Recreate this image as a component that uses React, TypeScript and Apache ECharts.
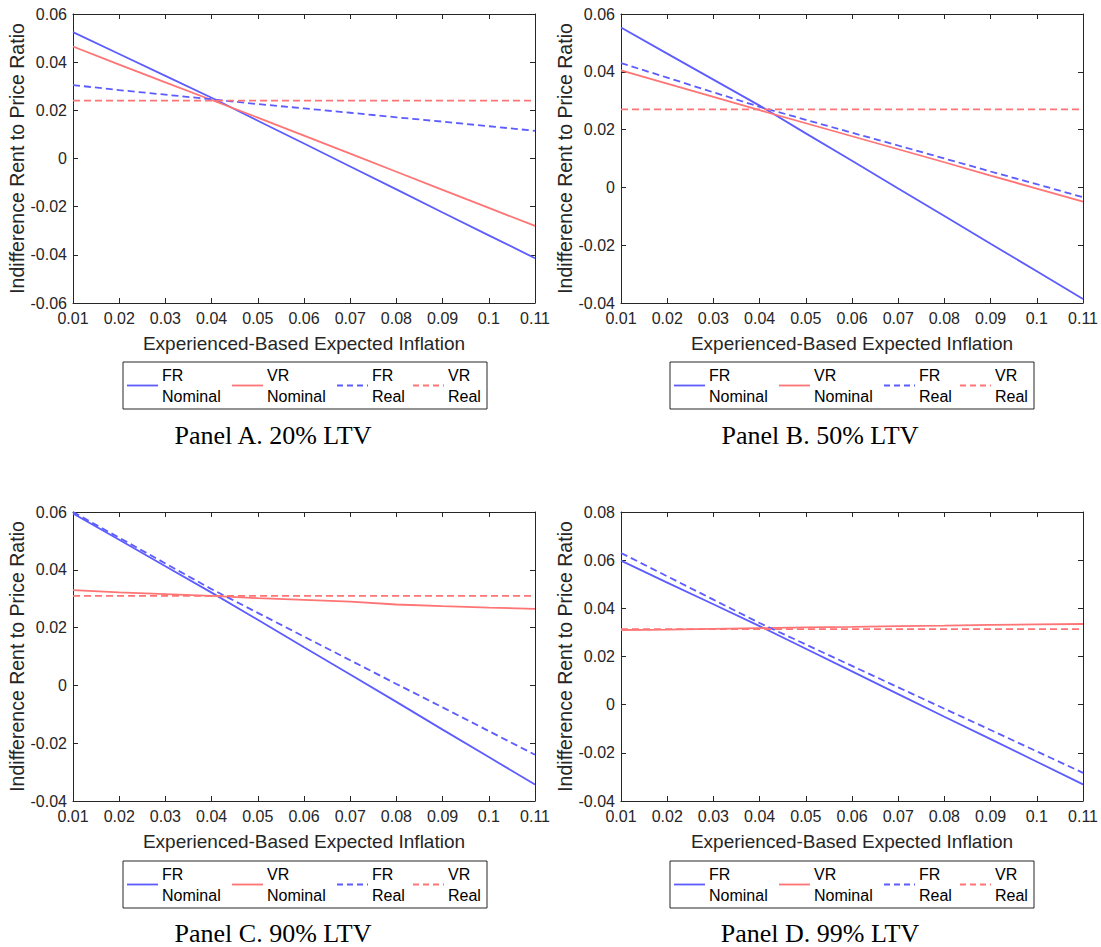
import React, { useEffect, useRef } from "react";
import * as echarts from "echarts";

// ---------- data ----------
const inflation = [0.01, 0.02, 0.03, 0.04, 0.05, 0.06, 0.07, 0.08, 0.09, 0.1, 0.11];
const seriesNames = ["FR Nominal", "VR Nominal", "FR Real", "VR Real"];
const legendLabels = ["FR\nNominal", "VR\nNominal", "FR\nReal", "VR\nReal"];
const panelTitles = ["Panel A. 20% LTV", "Panel B. 50% LTV", "Panel C. 90% LTV", "Panel D. 99% LTV"];

const aFrNominal = [0.0525, 0.0434, 0.0343, 0.0252, 0.0157, 0.0062, -0.0033, -0.0128, -0.0224, -0.0319, -0.0414];
const aVrNominal = [0.0465, 0.039, 0.0316, 0.0243, 0.017, 0.0095, 0.002, -0.0055, -0.013, -0.0205, -0.028];
const aFrReal = [0.0305, 0.0284, 0.0265, 0.0246, 0.0226, 0.0208, 0.019, 0.0171, 0.0153, 0.0134, 0.0115];
const aVrReal = [0.024, 0.024, 0.024, 0.024, 0.024, 0.024, 0.024, 0.024, 0.024, 0.024, 0.024];

const bFrNominal = [0.0553, 0.0463, 0.0373, 0.0283, 0.0187, 0.0092, -0.0004, -0.0099, -0.0195, -0.029, -0.0386];
const bVrNominal = [0.0405, 0.0359, 0.0313, 0.0267, 0.0222, 0.0177, 0.0132, 0.0087, 0.0041, -0.0004, -0.0049];
const bFrReal = [0.043, 0.038, 0.0329, 0.0279, 0.0234, 0.0189, 0.0145, 0.01, 0.0055, 0.0011, -0.0034];
const bVrReal = [0.027, 0.027, 0.027, 0.027, 0.027, 0.027, 0.027, 0.027, 0.027, 0.027, 0.027];

const cFrNominal = [0.0595, 0.0504, 0.0412, 0.0321, 0.0227, 0.0132, 0.0038, -0.0057, -0.0153, -0.0248, -0.0343];
const cVrNominal = [0.033, 0.0322, 0.0316, 0.031, 0.0302, 0.0296, 0.029, 0.028, 0.0274, 0.0269, 0.0265];
const cFrReal = [0.06, 0.0511, 0.0422, 0.0333, 0.0251, 0.0169, 0.0087, 0.0005, -0.0076, -0.0158, -0.024];
const cVrReal = [0.031, 0.031, 0.031, 0.031, 0.031, 0.031, 0.031, 0.031, 0.031, 0.031, 0.031];

const dFrNominal = [0.0598, 0.0507, 0.0417, 0.0326, 0.0232, 0.0138, 0.0044, -0.005, -0.0143, -0.0237, -0.0331];
const dVrNominal = [0.031, 0.0312, 0.0315, 0.0318, 0.0321, 0.0323, 0.0326, 0.0328, 0.0331, 0.0333, 0.0335];
const dFrReal = [0.063, 0.0533, 0.0436, 0.0339, 0.025, 0.0161, 0.0072, -0.0017, -0.0105, -0.0194, -0.0283];
const dVrReal = [0.0314, 0.0314, 0.0314, 0.0314, 0.0314, 0.0314, 0.0314, 0.0314, 0.0314, 0.0314, 0.0314];

const panelSeries = [
  [aFrNominal, aVrNominal, aFrReal, aVrReal],
  [bFrNominal, bVrNominal, bFrReal, bVrReal],
  [cFrNominal, cVrNominal, cFrReal, cVrReal],
  [dFrNominal, dVrNominal, dFrReal, dVrReal],
];
const yMin = [-0.06, -0.04, -0.04, -0.04];
const yMax = [0.06, 0.06, 0.06, 0.08];
const yStep = 0.02;
const xMin = 0.01;
const xMax = 0.11;
const xStep = 0.01;

// ---------- styles / layout ----------
const BLUE = "#5c5cff";
const RED = "#ff7474";
const AXIS = "#262626";
const lineColors = [BLUE, RED, BLUE, RED];
const dashed = [false, false, true, true];
const panelLeft = [73, 621, 73, 621];
const panelTop = [14, 14, 512, 512];
const PW = 462;
const PH = 289;
const legendPos = [
  [123, 362],
  [670, 362],
  [123, 861],
  [670, 861],
];
const captionPos = [
  [273, 435],
  [820, 435],
  [273, 933],
  [820, 933],
];
const legLineX = [4, 109, 214, 290];
const legTextX = [39, 144, 249, 325];

const fmt = (v: number) => {
  const r = +v.toFixed(2);
  return r === 0 ? "0" : String(r);
};

export default function App() {
  const ref = useRef<HTMLDivElement>(null);
  useEffect(() => {
    document.body.style.margin = "0";
    const chart = echarts.init(ref.current!, undefined, { renderer: "svg" });

    const grid: any[] = [];
    const xAxis: any[] = [];
    const yAxis: any[] = [];
    const series: any[] = [];
    const graphic: any[] = [];

    for (let p = 0; p < 4; p++) {
      grid.push({ left: panelLeft[p], top: panelTop[p], width: PW, height: PH, containLabel: false });
      ["bottom", "top"].forEach((pos) => {
        xAxis.push({
          type: "value",
          gridIndex: p,
          position: pos,
          min: xMin,
          max: xMax,
          interval: xStep,
          name: pos === "bottom" ? "Experienced-Based Expected Inflation" : "",
          nameLocation: "middle",
          nameGap: 31,
          nameTextStyle: { fontFamily: "Liberation Sans, Arial", fontSize: 19, color: AXIS },
          axisLine: { show: true, onZero: false, lineStyle: { color: AXIS, width: 1 } },
          axisTick: { show: true, inside: true, length: 5, lineStyle: { color: AXIS, width: 1 } },
          axisLabel: {
            show: pos === "bottom",
            margin: 7,
            showMinLabel: true,
            showMaxLabel: true,
            formatter: fmt,
            fontFamily: "Liberation Sans, Arial",
            fontSize: 16,
            color: AXIS,
          },
          splitLine: { show: false },
        });
      });
      ["left", "right"].forEach((pos) => {
        yAxis.push({
          type: "value",
          gridIndex: p,
          position: pos,
          min: yMin[p],
          max: yMax[p],
          interval: yStep,
          name: pos === "left" ? "Indifference Rent to Price Ratio" : "",
          nameLocation: "middle",
          nameGap: 42,
          nameTextStyle: { fontFamily: "Liberation Sans, Arial", fontSize: 19.5, color: AXIS },
          axisLine: { show: true, onZero: false, lineStyle: { color: AXIS, width: 1 } },
          axisTick: { show: true, inside: true, length: 5, lineStyle: { color: AXIS, width: 1 } },
          axisLabel: {
            show: pos === "left",
            margin: 6,
            showMinLabel: true,
            showMaxLabel: true,
            formatter: fmt,
            fontFamily: "Liberation Sans, Arial",
            fontSize: 16,
            color: AXIS,
          },
          splitLine: { show: false },
        });
      });

      panelSeries[p].forEach((vals, s) => {
        series.push({
          type: "line",
          name: seriesNames[s],
          xAxisIndex: p * 2,
          yAxisIndex: p * 2,
          data: inflation.map((x, i) => [x, vals[i]]),
          showSymbol: false,
          symbol: "none",
          silent: true,
          lineStyle: {
            color: lineColors[s],
            width: 1.8,
            type: dashed[s] ? [7, 4] : "solid",
          },
          z: 2 + s,
        });
      });

      // legend box
      const [lx, ly] = legendPos[p];
      const children: any[] = [
        {
          type: "rect",
          shape: { x: 0, y: 0, width: 364, height: 47 },
          style: { fill: "#fff", stroke: AXIS, lineWidth: 1 },
        },
      ];
      for (let s = 0; s < 4; s++) {
        children.push({
          type: "line",
          shape: { x1: legLineX[s], y1: 23.5, x2: legLineX[s] + 31, y2: 23.5 },
          style: { stroke: lineColors[s], lineWidth: 1.8, lineDash: dashed[s] ? [6, 4] : null },
        });
        children.push({
          type: "text",
          x: legTextX[s],
          y: 24,
          style: {
            text: legendLabels[s],
            font: "16px 'Liberation Sans', Arial",
            fill: "#000",
            verticalAlign: "middle",
            align: "left",
            lineHeight: 21,
          },
        });
      }
      graphic.push({ type: "group", x: lx, y: ly, children });
      graphic.push({
        type: "text",
        x: captionPos[p][0],
        y: captionPos[p][1],
        style: {
          text: panelTitles[p],
          font: "26px 'Liberation Serif', serif",
          fill: "#000",
          align: "center",
          verticalAlign: "middle",
        },
      });
    }

    chart.setOption({
      animation: false,
      backgroundColor: "#fff",
      grid,
      xAxis,
      yAxis,
      series,
      graphic,
    });
    return () => chart.dispose();
  }, []);
  return <div ref={ref} style={{ width: 1101, height: 947 }} />;
}
